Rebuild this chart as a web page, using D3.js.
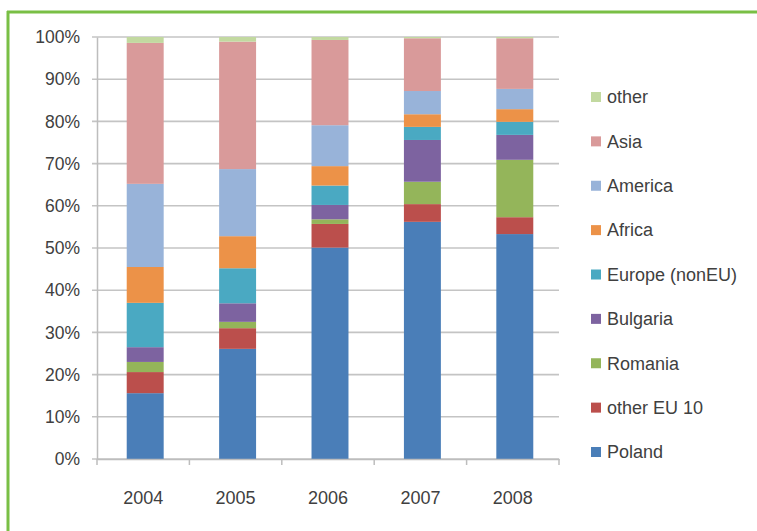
<!DOCTYPE html>
<html>
<head>
<meta charset="utf-8">
<script src="https://cdn.jsdelivr.net/npm/d3@7"></script>
<style>
  html, body { margin: 0; padding: 0; background: #fff; }
  svg { display: block; }
  text { font-family: "Liberation Sans", Arial, sans-serif; fill: #404040; }
</style>
</head>
<body>
<svg id="chart" width="757" height="531"></svg>
<script>
// Share of arrivals by origin, per year (percent of total)
const years = ["2004", "2005", "2006", "2007", "2008"];
const seriesNames = ["Poland", "other EU 10", "Romania", "Bulgaria", "Europe (nonEU)", "Africa", "America", "Asia", "other"];
const poland    = [15.6, 26.1, 50.1, 56.2, 53.3];
const otherEU10 = [5.0, 4.9, 5.6, 4.2, 4.0];
const romania   = [2.4, 1.5, 1.1, 5.3, 13.6];
const bulgaria  = [3.5, 4.4, 3.4, 9.9, 5.9];
const europeNonEU = [10.5, 8.3, 4.6, 3.1, 3.1];
const africa    = [8.5, 7.6, 4.6, 3.0, 3.0];
const america   = [19.7, 15.9, 9.7, 5.5, 4.8];
const asia      = [33.4, 30.2, 20.2, 12.5, 12.0];
const other     = [1.4, 1.1, 0.7, 0.3, 0.3];
const yTickLabels = ["0%", "10%", "20%", "30%", "40%", "50%", "60%", "70%", "80%", "90%", "100%"];
const colors = ["#4a7eb8", "#bb4f4c", "#94b55a", "#7d63a0", "#4aa9c2", "#ec9248", "#98b3d9", "#d99a9a", "#c2d9a0"];

const seriesValues = [poland, otherEU10, romania, bulgaria, europeNonEU, africa, america, asia, other];
const rows = years.map((y, i) => {
  const r = { year: y };
  seriesNames.forEach((n, k) => { r[n] = seriesValues[k][i]; });
  return r;
});
const stacked = d3.stack().keys(seriesNames).offset(d3.stackOffsetExpand)(rows);

const svg = d3.select("#chart");

// frame
svg.append("line").attr("x1", 7).attr("x2", 757).attr("y1", 12).attr("y2", 12)
  .attr("stroke", "#79bf45").attr("stroke-width", 3);
svg.append("line").attr("x1", 8).attr("x2", 8).attr("y1", 11).attr("y2", 531)
  .attr("stroke", "#79bf45").attr("stroke-width", 3);

const plot = { left: 97, right: 559, top: 37, bottom: 459 };
// bars sit slightly right of each category's centre
const x = d3.scaleBand().domain(years).range([plot.left + 2, plot.right + 2]).paddingInner(0.6).paddingOuter(0.3);
const xOuter = d3.scaleBand().domain(years).range([plot.left, plot.right]);
const y = d3.scaleLinear().domain([0, 1]).range([plot.bottom, plot.top]);

// horizontal gridlines
const grid = svg.append("g");
grid.selectAll("line").data(d3.range(0, 1.0001, 0.1)).join("line")
  .attr("x1", plot.left - 5).attr("x2", plot.right)
  .attr("y1", d => y(d)).attr("y2", d => y(d))
  .attr("stroke", "#c4c4c4").attr("stroke-width", 1.6);

// y axis
const yAxis = d3.axisLeft(y).tickValues(d3.range(0, 1.0001, 0.1))
  .tickFormat((d, i) => yTickLabels[i]).tickSize(0).tickPadding(17);
const gy = svg.append("g").attr("transform", `translate(${plot.left},0)`).call(yAxis);
gy.select(".domain").attr("stroke", "#bdbdbd").attr("stroke-width", 1.5);
gy.selectAll("text").style("font-size", "17.5px").attr("fill", "#404040");

// bars
svg.append("g").selectAll("g").data(stacked).join("g")
  .attr("fill", (d, i) => colors[i])
  .selectAll("rect").data(d => d).join("rect")
  .attr("x", d => x(d.data.year))
  .attr("width", x.bandwidth())
  .attr("y", d => y(d[1]))
  .attr("height", d => y(d[0]) - y(d[1]));

// x axis
const xAxis = d3.axisBottom(xOuter).tickSize(0).tickPadding(32);
const gx = svg.append("g").attr("transform", `translate(0,${plot.bottom})`).call(xAxis);
gx.select(".domain").attr("stroke", "#bdbdbd").attr("stroke-width", 1.5);
gx.selectAll("text").style("font-size", "18px").attr("fill", "#404040");
gx.selectAll("line.cat").data([...years.map(d => xOuter(d)), plot.right]).join("line")
  .attr("class", "cat")
  .attr("x1", d => d).attr("x2", d => d).attr("y1", 0).attr("y2", 6)
  .attr("stroke", "#bdbdbd").attr("stroke-width", 1.5);

// legend (top item is last series)
const legendItems = seriesNames.map((n, i) => ({ name: n, color: colors[i] })).reverse();
const legendY = d3.scalePoint().domain(legendItems.map(d => d.name)).range([97, 452]);
const lg = svg.append("g").selectAll("g").data(legendItems).join("g")
  .attr("transform", d => `translate(591,${legendY(d.name)})`);
lg.append("rect").attr("x", 0).attr("y", -5).attr("width", 10).attr("height", 10).attr("fill", d => d.color);
lg.append("text").attr("x", 16).attr("y", 0).attr("dy", "0.35em")
  .style("font-size", "18px").text(d => d.name);
</script>
</body>
</html>
